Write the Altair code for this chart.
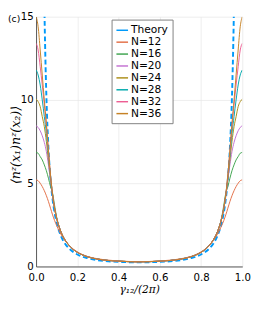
import altair as alt
import pandas as pd

series_names = ["Theory", "N=12", "N=16", "N=20", "N=24", "N=28", "N=32", "N=36"]
palette = ["#009AFA", "#E36F47", "#3EA44E", "#C371D2", "#AC8E18", "#00A9AD", "#ED5E93", "#C68225"]

x_grid = [0.0, 0.01, 0.02, 0.03, 0.04, 0.05, 0.06, 0.07, 0.08, 0.09, 0.10,
          0.12, 0.14, 0.16, 0.18, 0.20, 0.25, 0.30, 0.35, 0.40, 0.45, 0.50,
          0.55, 0.60, 0.65, 0.70, 0.75, 0.80, 0.82, 0.84, 0.86, 0.88,
          0.90, 0.91, 0.92, 0.93, 0.94, 0.95, 0.96, 0.97, 0.98, 0.99, 1.0]

n12 = [5.2, 5.15, 5.0, 4.8, 4.55, 4.25, 3.9, 3.5, 3.1, 2.75, 2.45,
       1.95, 1.55, 1.28, 1.05, 0.88, 0.6, 0.46, 0.38, 0.33, 0.3, 0.29,
       0.3, 0.33, 0.38, 0.46, 0.6, 0.88, 1.05, 1.28, 1.55, 1.95,
       2.45, 2.75, 3.1, 3.5, 3.9, 4.25, 4.55, 4.8, 5.0, 5.15, 5.2]
n16 = [6.85, 6.8, 6.6, 6.4, 6.1, 5.75, 5.3, 4.8, 4.4, 3.65, 2.95,
       2.1, 1.6, 1.27, 1.02, 0.85, 0.58, 0.44, 0.36, 0.32, 0.29, 0.28,
       0.29, 0.32, 0.36, 0.44, 0.58, 0.85, 1.02, 1.27, 1.6, 2.1,
       2.95, 3.65, 4.4, 4.8, 5.3, 5.75, 6.1, 6.4, 6.6, 6.8, 6.85]
n20 = [8.45, 8.35, 8.15, 7.85, 7.45, 6.9, 6.1, 5.2, 4.2, 3.45, 2.88,
       2.1, 1.6, 1.27, 1.02, 0.85, 0.58, 0.44, 0.36, 0.32, 0.29, 0.28,
       0.29, 0.32, 0.36, 0.44, 0.58, 0.85, 1.02, 1.27, 1.6, 2.1,
       2.88, 3.45, 4.2, 5.2, 6.1, 6.9, 7.45, 7.85, 8.15, 8.35, 8.45]
n24 = [10.05, 9.9, 9.6, 9.0, 8.4, 7.5, 6.4, 5.3, 4.25, 3.45, 2.88,
       2.1, 1.6, 1.27, 1.02, 0.85, 0.58, 0.44, 0.36, 0.32, 0.29, 0.28,
       0.29, 0.32, 0.36, 0.44, 0.58, 0.85, 1.02, 1.27, 1.6, 2.1,
       2.88, 3.45, 4.25, 5.3, 6.4, 7.5, 8.4, 9.0, 9.6, 9.9, 10.05]
n28 = [11.8, 11.5, 10.9, 10.0, 9.0, 8.0, 6.7, 5.4, 4.3, 3.48, 2.9,
       2.1, 1.6, 1.27, 1.02, 0.85, 0.58, 0.44, 0.36, 0.32, 0.29, 0.28,
       0.29, 0.32, 0.36, 0.44, 0.58, 0.85, 1.02, 1.27, 1.6, 2.1,
       2.9, 3.48, 4.3, 5.4, 6.7, 8.0, 9.0, 10.0, 10.9, 11.5, 11.8]
n32 = [13.4, 13.0, 12.0, 10.9, 9.7, 8.4, 6.9, 5.45, 4.32, 3.5, 2.9,
       2.1, 1.6, 1.27, 1.02, 0.85, 0.58, 0.44, 0.36, 0.32, 0.29, 0.28,
       0.29, 0.32, 0.36, 0.44, 0.58, 0.85, 1.02, 1.27, 1.6, 2.1,
       2.9, 3.5, 4.32, 5.45, 6.9, 8.4, 9.7, 10.9, 12.0, 13.0, 13.4]
n36 = [15.0, 14.4, 13.0, 11.5, 10.0, 8.6, 7.0, 5.5, 4.35, 3.5, 2.9,
       2.1, 1.6, 1.27, 1.02, 0.85, 0.58, 0.44, 0.36, 0.32, 0.29, 0.28,
       0.29, 0.32, 0.36, 0.44, 0.58, 0.85, 1.02, 1.27, 1.6, 2.1,
       2.9, 3.5, 4.35, 5.5, 7.0, 8.6, 10.0, 11.5, 13.0, 14.4, 15.0]

x_theory = [0.035, 0.04, 0.045, 0.05, 0.06, 0.07, 0.08, 0.09, 0.10, 0.12,
            0.14, 0.16, 0.18, 0.20, 0.25, 0.30, 0.35, 0.40, 0.45, 0.50,
            0.55, 0.60, 0.65, 0.70, 0.75, 0.80, 0.82, 0.84, 0.86, 0.88,
            0.90, 0.91, 0.92, 0.93, 0.94, 0.95, 0.955, 0.96, 0.965]
theory = [20.8, 15.9, 12.6, 10.2, 7.12, 5.25, 4.04, 3.21, 2.62, 1.85,
          1.38, 1.08, 0.87, 0.72, 0.50, 0.38, 0.315, 0.276, 0.256, 0.25,
          0.256, 0.276, 0.315, 0.38, 0.50, 0.72, 0.87, 1.08, 1.38, 1.85,
          2.62, 3.21, 4.04, 5.25, 7.12, 10.2, 12.6, 15.9, 20.8]

x_ticks = [0.0, 0.2, 0.4, 0.6, 0.8, 1.0]
y_ticks = [0, 5, 10, 15]

rows = []
for name, vals in zip(series_names[1:], [n12, n16, n20, n24, n28, n32, n36]):
    for xv, yv in zip(x_grid, vals):
        rows.append({"x": xv, "y": yv, "series": name})
df_n = pd.DataFrame(rows)
df_t = pd.DataFrame({"x": x_theory, "y": theory, "series": "Theory"})

color = alt.Color(
    "series:N",
    scale=alt.Scale(domain=series_names, range=palette),
    sort=series_names,
    legend=alt.Legend(
        title=None, orient="none", legendX=78, legendY=3,
        symbolType="stroke", symbolSize=144, symbolStrokeWidth=1.5,
        labelFontSize=11, labelFont="DejaVu Sans", labelColor="#000",
        rowPadding=0.3, labelOffset=2, padding=4,
        strokeColor="#7f7f7f", fillColor="white", cornerRadius=0,
    ),
)

xenc = alt.X("x:Q", scale=alt.Scale(domain=[0, 1], nice=False),
             axis=alt.Axis(values=x_ticks, format=".1f", title="γ₁₂/(2π)",
                           titleFont="DejaVu Serif", titleFontStyle="italic",
                           labelPadding=6, titlePadding=1))
yenc = alt.Y("y:Q", scale=alt.Scale(domain=[0, 15], nice=False),
             axis=alt.Axis(values=y_ticks, title="⟨nᶻ(x₁)nᶻ(x₂)⟩",
                           titleX=-21, titleY=132, titleAlign="center",
                           titleBaseline="middle", titleAngle=-90,
                           titleFont="DejaVu Serif", titleFontSize=13,
                           titleFontStyle="italic", labelPadding=3))

theory_layer = alt.Chart(df_t).mark_line(
    clip=True, interpolate="monotone", strokeWidth=2, strokeDash=[5, 3]
).encode(x=xenc, y=yenc, color=color, order="x:Q")

n_layer = alt.Chart(df_n).mark_line(
    clip=True, interpolate="monotone", strokeWidth=1
).encode(x=xenc, y=yenc, color=color, order="x:Q")

label = alt.Chart(pd.DataFrame({"t": ["(c)"]})).mark_text(
    text="(c)", align="left", baseline="top", fontSize=9.5,
    font="DejaVu Sans", color="#000"
).encode(x=alt.value(-29), y=alt.value(-3))

chart = alt.layer(theory_layer, n_layer, label).properties(
    width=213, height=258,
    autosize=alt.AutoSizeParams(type="none"),
    padding={"left": 29, "top": 4, "right": 9, "bottom": 41},
).configure_view(stroke=None).configure_axis(
    domainColor="#555555", domainWidth=1, ticks=False,
    gridColor="#e6e6e6", gridWidth=0.7,
    labelFont="DejaVu Sans", labelFontSize=10.5, labelColor="#000",
    titleFont="DejaVu Sans", titleFontSize=11, titleColor="#000",
    titleFontWeight="normal",
).configure_axisX(labelFlush=False)

chart.save("out.html", embed_options={"renderer": "svg", "actions": False})
